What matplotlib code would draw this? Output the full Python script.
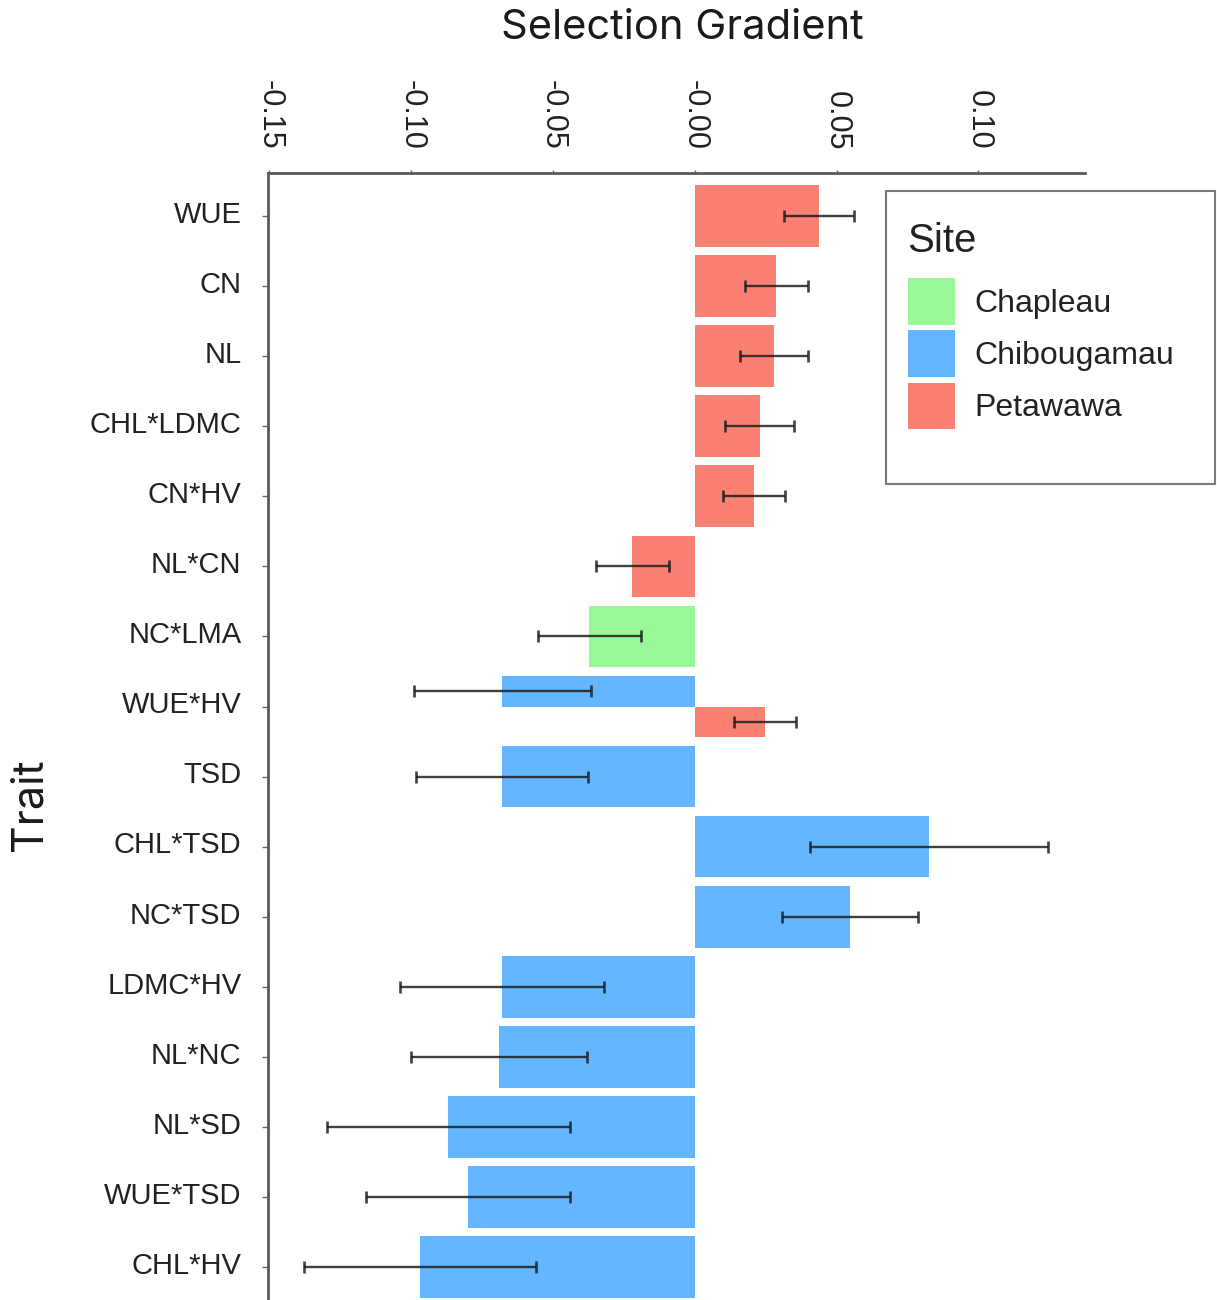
import numpy as np
import matplotlib.pyplot as plt
import matplotlib.transforms as mtransforms
from matplotlib.patches import Patch, Rectangle

# trait order, top to bottom
traits = ["WUE", "CN", "NL", "CHL*LDMC", "CN*HV", "NL*CN", "NC*LMA", "WUE*HV",
          "TSD", "CHL*TSD", "NC*TSD", "LDMC*HV", "NL*NC", "NL*SD", "WUE*TSD", "CHL*HV"]

sites = ["Chapleau", "Chibougamau", "Petawawa"]
site_colors = ["#98F898", "#63B6FF", "#FA8072"]

chap_traits = ["NC*LMA"]
chap_grad = [-0.0372]
chap_err = [0.0181]

chib_traits = ["WUE*HV", "TSD", "CHL*TSD", "NC*TSD", "LDMC*HV", "NL*NC", "NL*SD", "WUE*TSD", "CHL*HV"]
chib_grad = [-0.0679, -0.0681, 0.0827, 0.0547, -0.0680, -0.0690, -0.0869, -0.0800, -0.0969]
chib_err = [0.0312, 0.0303, 0.0419, 0.0239, 0.0360, 0.0310, 0.0429, 0.0359, 0.0410]

pet_traits = ["WUE", "CN", "NL", "CHL*LDMC", "CN*HV", "NL*CN", "WUE*HV"]
pet_grad = [0.0438, 0.0288, 0.0279, 0.0229, 0.0208, -0.0221, 0.0247]
pet_err = [0.0125, 0.0112, 0.0121, 0.0121, 0.0109, 0.0129, 0.0110]

xticks = [-0.15, -0.10, -0.05, 0.0, 0.05, 0.10]
xtick_labels = ["-0.15", "-0.10", "-0.05", "-0.00", "0.05", "0.10"]

W, H = 1217, 1300
fig = plt.figure(figsize=(W / 100, H / 100), dpi=100)
ax = fig.add_axes([268 / W, 0, (1085 - 268) / W, 1 - 173 / H])

site_data = {
    "Chapleau": (chap_traits, chap_grad, chap_err),
    "Chibougamau": (chib_traits, chib_grad, chib_err),
    "Petawawa": (pet_traits, pet_grad, pet_err),
}

# dodge traits that have more than one site
counts = {t: 0 for t in traits}
for s in sites:
    for t in site_data[s][0]:
        counts[t] += 1
slot = {t: 0 for t in traits}

width = 0.88
for s, col in zip(sites, site_colors):
    tr, g, e = site_data[s]
    ys, hs = [], []
    for t in tr:
        n = counts[t]
        h = width / n
        y = traits.index(t) - width / 2 + h * (slot[t] + 0.5)
        slot[t] += 1
        ys.append(y)
        hs.append(h)
    ax.barh(ys, g, height=hs, color=col, edgecolor="none", zorder=2)
    ax.errorbar(g, ys, xerr=e, fmt="none", ecolor="#1e1e1e", elinewidth=1.7,
                capsize=4.5, capthick=1.9, alpha=0.85, zorder=3)

ax.set_xlim(-0.1505, 0.1376)
ax.set_ylim(15.47, -0.614)

ax.xaxis.tick_top()
ax.set_xticks(xticks)
ax.set_xticklabels(xtick_labels, rotation=270, fontsize=22, family="Liberation Sans",
                   color="#222222")
ax.tick_params(axis="x", length=2.5, width=1, color="#666666", pad=14)

ax.set_yticks(range(len(traits)))
ax.set_yticklabels(traits, fontsize=21, family="Liberation Sans", color="#222222")
ax.tick_params(axis="y", length=4, width=1, color="#666666", pad=15)
# nudge trait labels up a little
lift = mtransforms.ScaledTranslation(0, 3 / 72, fig.dpi_scale_trans)
for lbl in ax.get_yticklabels():
    lbl.set_transform(lbl.get_transform() + lift)

for side in ["right", "bottom"]:
    ax.spines[side].set_visible(False)
for side in ["left", "top"]:
    ax.spines[side].set_color("#5a5a5a")
    ax.spines[side].set_linewidth(2)

fig.text(682 / W, 1 - 28 / H, "Selection Gradient", fontsize=30, family="Inter",
         ha="center", va="center", color="#1a1a1a")
fig.text(30 / W, 1 - 805 / H, "Trait", fontsize=31, family="Inter", rotation=90,
         ha="center", va="center", color="#1a1a1a")

# legend with a hand-placed title and frame
fig.text(907 / W, 1 - 241 / H, "Site", fontsize=29, family="Liberation Sans",
         ha="left", va="center", color="#222222")
handles = [Patch(facecolor=c, edgecolor="none") for c in site_colors]
leg = fig.legend(handles, sites, loc="upper left",
                 bbox_to_anchor=(908 / W, 1 - 278 / H), bbox_transform=fig.transFigure,
                 frameon=False, borderpad=0, borderaxespad=0,
                 prop={"family": "Liberation Sans", "size": 23},
                 handlelength=1.47, handleheight=1.88,
                 handletextpad=0.62, labelspacing=0.17)
for t in leg.get_texts():
    t.set_color("#222222")
fig.patches.append(Rectangle((886 / W, 1 - 484 / H), (1215 - 886) / W, (484 - 191) / H,
                             transform=fig.transFigure, fill=False,
                             edgecolor="#7a7a7a", linewidth=1.5))

fig.savefig("out.png", dpi=100)
